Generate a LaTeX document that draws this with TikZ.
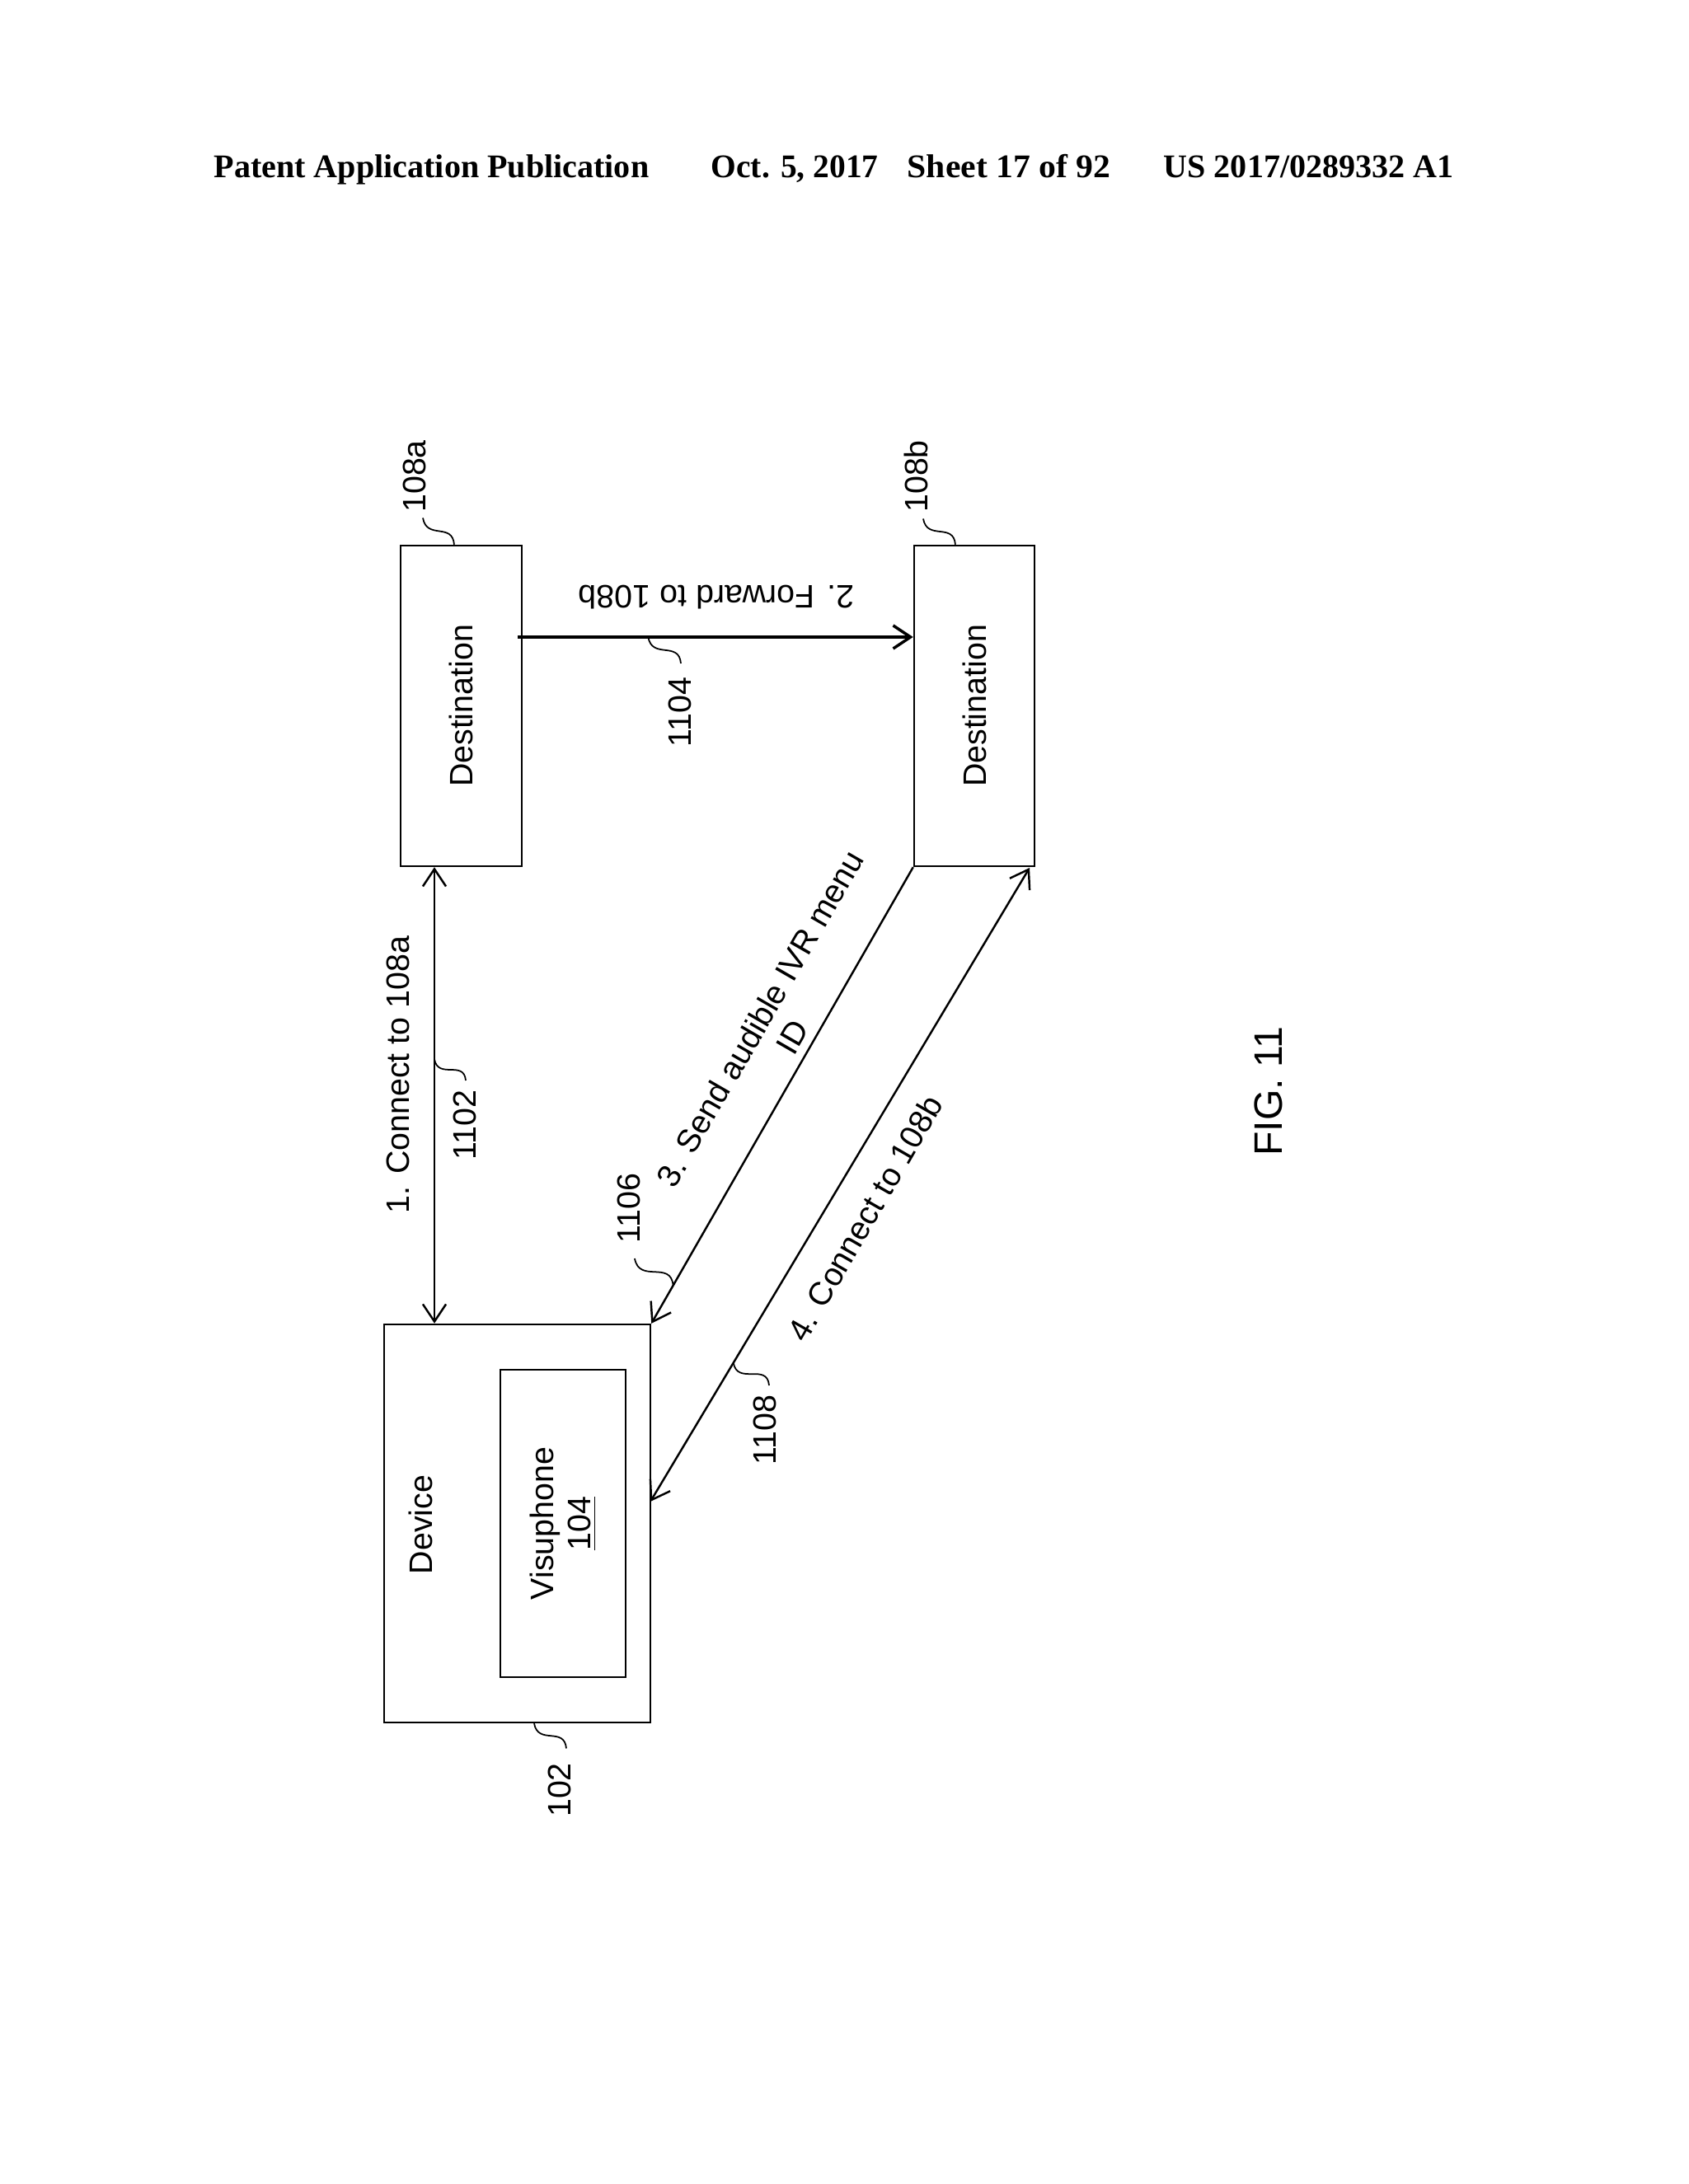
\documentclass[tikz,border=0pt]{standalone}
\usepackage{fontspec}
\setmainfont{Liberation Sans}
\newfontfamily\headfont{Liberation Serif}
\usetikzlibrary{arrows.meta, positioning, calc}

\tikzset{
  lbl/.style={font=\fontsize{11.2}{12.8}\selectfont, inner sep=0pt, align=center},
  boxnode/.style={draw, lbl, rotate=90, line width=0.7pt},
  head/.style={font=\headfont\bfseries\fontsize{11.4}{13}\selectfont, inner sep=0pt, anchor=base west},
  conn/.style={line width=0.7pt, >={Straight Barb[length=6pt, width=8pt]}},
  squig/.style={line width=0.5pt, out=-80, in=95, looseness=1.4}
}

\begin{document}
\begin{tikzpicture}
      \useasboundingbox (0, 0) rectangle (20.48, 26.5);

      \node[head] (headpub) at (2.59, 24.34) {Patent Application Publication};
      \node[head, xscale=0.985] (headdate) at (8.62, 24.34) {Oct. 5, 2017};
      \node[head, xscale=1.04] (headsheet) at (11.0, 24.34) {Sheet 17 of 92};
      \node[head] (headnum) at (14.11, 24.34) {US 2017/0289332 A1};

      % rotated boxes: east is up, north is left on the page
      \node[boxnode, minimum width=3.89cm, minimum height=1.47cm] (desta) at (5.595, 17.935) {Destination};
      \node[boxnode, minimum width=3.89cm, minimum height=1.46cm] (destb) at (11.82, 17.935) {Destination};
      \node[boxnode, minimum width=4.83cm, minimum height=3.23cm] (device) at (6.275, 8.015) {};
      \node[boxnode, minimum width=3.73cm, minimum height=1.52cm] (visu) at (6.83, 8.015) {Visuphone\\\underline{104}};
      \node[lbl, rotate=90] (devicetxt) at (5.10, 8.0) {Device};

      \coordinate (linka) at (5.27, 13);
      \coordinate (fwd) at (6.28, 18.77);
      \coordinate (linkb) at (7.89, 8.28);
      \coordinate (linkc) at (12.49, 15.97);

      \draw[conn, <->] (linka |- device.east) -- (linka |- desta.west);
      \draw[conn, ->, line width=1pt] (fwd) -- (fwd -| destb.north);
      \draw[conn, ->] (destb.north west) -- (device.south east);
      \draw[conn, <->] (linkb) -- (linkc);

      \node[lbl, rotate=90] (txtone) at (4.83, 13.46) {1. Connect to 108a};
      \node[lbl, rotate=180] (txttwo) at (8.69, 19.25) {2. Forward to 108b};
      \node[lbl, rotate=60] (txtthree) at (9.41, 14.03) {3. Send audible IVR menu\\ID};
      \node[lbl, rotate=60] (txtfour) at (10.49, 11.72) {4. Connect to 108b};

      \node[lbl, rotate=90] (refa) at (5.03, 20.72) {108a};
      \node[lbl, rotate=90] (refb) at (11.11, 20.72) {108b};
      \node[lbl, rotate=90] (refdev) at (6.79, 4.78) {102};
      \node[lbl, rotate=90] (refone) at (5.64, 12.85) {1102};
      \node[lbl, rotate=90] (reftwo) at (8.25, 17.86) {1104};
      \node[lbl, rotate=90] (refthree) at (7.63, 11.84) {1106};
      \node[lbl, rotate=90] (reffour) at (9.28, 9.15) {1108};

      \draw[squig] ([shift={(0.10, -0.06)}]refa.west) to ([xshift=-0.085cm]desta.east);
      \draw[squig] ([shift={(0.09, -0.07)}]refb.west) to ([xshift=-0.23cm]destb.east);
      \draw[squig] ($(fwd)!0.33!(fwd -| destb.north)$) to ([shift={(0.01, 0.16)}]reftwo.east);
      \draw[squig] ($(linka |- device.east)!0.579!(linka |- desta.west)$) to ([shift={(0.01, 0.11)}]refone.east);
      \draw[squig] ([shift={(0.07, -0.18)}]refthree.west) to ($(device.south east)!0.083!(destb.north west)$);
      \draw[squig] ($(linkb)!0.219!(linkc)$) to ([shift={(0.05, 0.11)}]reffour.east);
      \draw[squig] ([xshift=0.205cm]device.west) to ([shift={(0.08, 0.17)}]refdev.east);

      \node[lbl, rotate=90, font=\fontsize{13.7}{16}\selectfont] (figlbl) at (15.39, 13.26) {FIG. 11};
    \end{tikzpicture}
\end{document}
